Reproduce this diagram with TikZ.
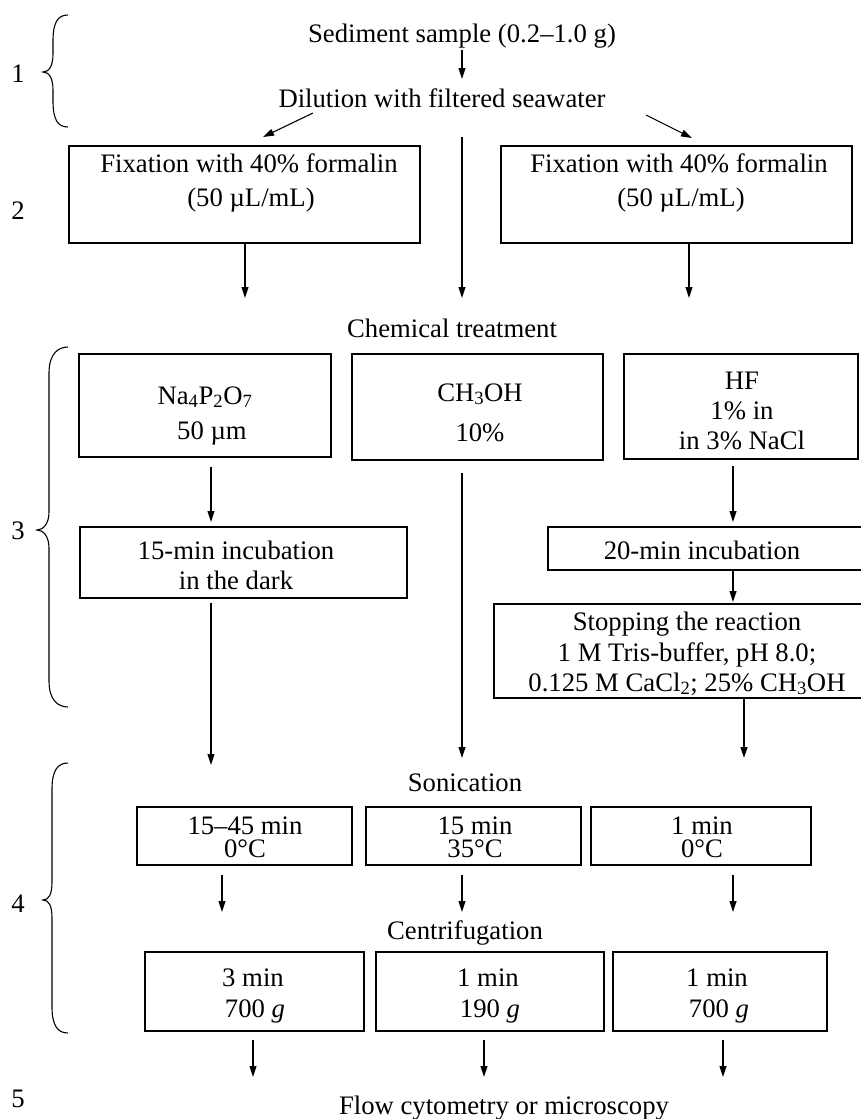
\documentclass[tikz,border=0pt]{standalone}
\usepackage{fontspec}
\setmainfont{Liberation Serif}
\usetikzlibrary{arrows.meta}
\newcommand\mybrace[5]{% #1 vertical x, #2 tip x, #3 top y, #4 tip y, #5 bottom y
  \draw[bracestyle] (68,#3) .. controls (58,#3) and (#1,#3+7) .. (#1,#3+26)
    -- (#1,#4-18) .. controls (#1,#4-6) and (#2+6,#4) .. (#2,#4)
    .. controls (#2+6,#4) and (#1,#4+6) .. (#1,#4+18)
    -- (#1,#5-26) .. controls (#1,#5-7) and (58,#5) .. (68,#5);}
\newcommand\tline[4]{\node[tx] (#1) at (#2,#3+9) {#4};}
\newcommand\bx[5]{\node[box, minimum width={(#4-#2)*1pt}, minimum height={(#5-#3)*1pt}] (#1) at ({(#2+#4)/2},{(#3+#5)/2}) {};}
\newcommand\arw[5]{\coordinate (#1a) at (#2,#3); \coordinate (#1b) at (#4,#5); \draw[arr] (#1a) -- (#1b);}
\begin{document}
\begin{tikzpicture}[x=1pt,y=-1pt,
  font=\fontsize{26.7}{32}\selectfont,
  box/.style={draw, line width=1.4pt, inner sep=0pt},
  arr/.style={-{Triangle[length=11pt,width=7pt]}, line width=1.1pt},
  bracestyle/.style={line width=1.1pt},
  tx/.style={anchor=base, inner sep=0pt}]
\useasboundingbox (0,0) rectangle (861,1119);
% step labels
\tline{n1}{18}{73}{1}
\tline{n2}{18}{210}{2}
\tline{n3}{18}{530}{3}
\tline{n4}{18}{903}{4}
\tline{n5}{18}{1098}{5}
% braces
\mybrace{53}{43}{15}{72}{127}
\mybrace{49}{37}{347}{530}{707}
\mybrace{52}{43}{763}{900}{1033}
% boxes
\bx{fixL}{69}{146}{420}{243}
\bx{fixR}{501}{146}{852}{243}
\bx{na}{79}{354}{331}{457}
\bx{ch}{352}{354}{603}{460}
\bx{hf}{624}{354}{858}{459}
\bx{inc15}{80}{527}{407}{598}
\bx{inc20}{548}{527}{872}{570}
\bx{stop}{494}{604}{872}{698}
\bx{s1}{137}{807}{352}{865}
\bx{s2}{366}{807}{581}{865}
\bx{s3}{591}{807}{811}{865}
\bx{c1}{145}{952}{364}{1031}
\bx{c2}{376}{952}{604}{1031}
\bx{c3}{613}{952}{827}{1031}
% texts
\tline{sed}{462}{33}{Sediment sample (0.2–1.0 g)}
\tline{dil}{442}{98}{Dilution with filtered seawater}
\tline{fixLa}{249}{163}{Fixation with 40\% formalin}
\tline{fixLb}{251}{197}{(50 µL/mL)}
\tline{fixRa}{679}{163}{Fixation with 40\% formalin}
\tline{fixRb}{681}{197}{(50 µL/mL)}
\tline{chem}{452}{328}{Chemical treatment}
\tline{naa}{205}{395}{Na\textsubscript{4}P\textsubscript{2}O\textsubscript{7}}
\tline{nab}{212}{430}{50 µm}
\tline{cha}{480}{392}{CH\textsubscript{3}OH}
\tline{chb}{480}{432}{10\%}
\tline{hfa}{742}{380}{HF}
\tline{hfb}{742}{410}{1\% in}
\tline{hfc}{742}{440}{in 3\% NaCl}
\tline{i15a}{236}{550}{15-min incubation}
\tline{i15b}{236}{580}{in the dark}
\tline{i20}{702}{550}{20-min incubation}
\tline{sta}{687}{621}{Stopping the reaction}
\tline{stb}{687}{652}{1 M Tris-buffer, pH 8.0;}
\tline{stc}{687}{682}{0.125 M CaCl\textsubscript{2}; 25\% CH\textsubscript{3}OH}
\tline{son}{465}{782}{Sonication}
\tline{s1a}{245}{825}{15–45 min}
\tline{s1b}{245}{848}{0°C}
\tline{s2a}{475}{825}{15 min}
\tline{s2b}{475}{848}{35°C}
\tline{s3a}{702}{825}{1 min}
\tline{s3b}{702}{848}{0°C}
\tline{cen}{465}{930}{Centrifugation}
\tline{c1a}{253}{977}{3 min}
\tline{c1b}{255}{1008}{700 \textit{g}}
\tline{c2a}{488}{977}{1 min}
\tline{c2b}{490}{1008}{190 \textit{g}}
\tline{c3a}{717}{977}{1 min}
\tline{c3b}{719}{1008}{700 \textit{g}}
\tline{flow}{504}{1105}{Flow cytometry or microscopy}
% arrows
\arw{sd}{462}{50}{462}{79}
\arw{dl}{313}{113}{263}{137}
\arw{dr}{646}{115}{692}{138}
\arw{dc}{462}{137}{462}{298}
\arw{fl}{245}{243}{245}{298}
\arw{fr}{689}{243}{689}{298}
\arw{na}{211}{467}{211}{522}
\arw{ia}{211}{603}{211}{765}
\arw{cm}{462}{473}{462}{758}
\arw{hf}{733}{466}{733}{522}
\arw{iz}{733}{570}{733}{602}
\arw{st}{744}{698}{744}{758}
\arw{so1}{222}{875}{222}{912}
\arw{so2}{462}{875}{462}{912}
\arw{so3}{733}{875}{733}{912}
\arw{ce1}{253}{1040}{253}{1077}
\arw{ce2}{484}{1040}{484}{1077}
\arw{ce3}{723}{1040}{723}{1077}
\end{tikzpicture}
\end{document}
